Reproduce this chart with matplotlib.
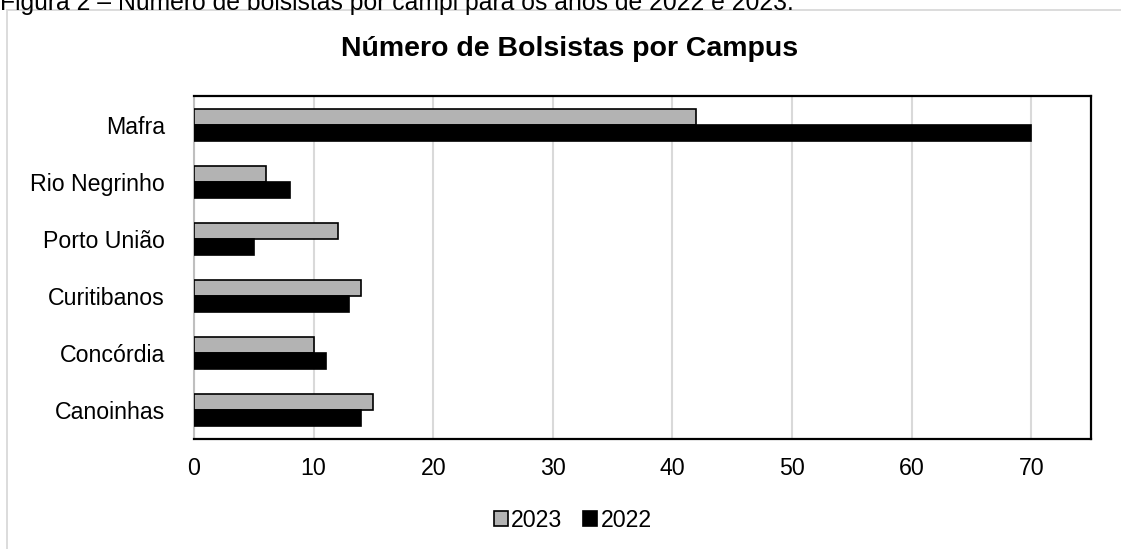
import matplotlib.pyplot as plt
import matplotlib.patches as mpatches
import numpy as np

plt.rcParams['font.family'] = ['Liberation Sans', 'DejaVu Sans']

campi = ['Canoinhas', 'Concórdia', 'Curitibanos', 'Porto União', 'Rio Negrinho', 'Mafra']
bolsistas_2023 = [15, 10, 14, 12, 6, 42]
bolsistas_2022 = [14, 11, 13, 5, 8, 70]
anos = ['2023', '2022']

fig = plt.figure(figsize=(11.21, 5.49), dpi=100)

# legenda da figura (cortada no topo) e moldura cinza
fig.text(0.0, 1.016, 'Figura 2 – Número de bolsistas por campi para os anos de 2022 e 2023.',
         fontsize=17.8, va='top', ha='left', color='black')
fig.add_artist(mpatches.Rectangle((7/1121, -0.1), 1.2, 1 - 10/549 + 0.1, transform=fig.transFigure,
                                  fill=False, edgecolor='#d9d9d9', linewidth=1.3))

ax = fig.add_axes([194/1121, 1 - 439/549, (1091 - 194)/1121, (439 - 96)/549])

y = np.arange(len(campi))
h = 0.28
ax.barh(y + h/2, bolsistas_2023, height=h, color='#b3b3b3', edgecolor='black', linewidth=1.2, label=anos[0], zorder=3)
ax.barh(y - h/2, bolsistas_2022, height=h, color='black', edgecolor='black', linewidth=1.2, label=anos[1], zorder=3)

ax.set_xlim(0, 75)
ax.set_ylim(-0.5, len(campi) - 0.5)
ax.set_xticks(np.arange(0, 71, 10))
ax.set_yticks(y)
ax.set_yticklabels(campi)
ax.tick_params(axis='both', length=0, labelsize=16.7)
ax.tick_params(axis='x', pad=13)
ax.tick_params(axis='y', pad=21)
ax.grid(axis='x', color='#d9d9d9', linewidth=1.5, zorder=0)

for s in ['top', 'right', 'bottom']:
    ax.spines[s].set_color('black')
    ax.spines[s].set_linewidth(1.6)
ax.spines['left'].set_color('#bfbfbf')
ax.spines['left'].set_linewidth(1.5)

fig.text(0.508, 0.91, 'Número de Bolsistas por Campus', fontsize=20.5, fontweight='bold',
         ha='center', va='center')

fig.legend(loc='center', bbox_to_anchor=(0.511, 0.052), ncol=2, frameon=False, fontsize=16.7,
           handlelength=0.6, handleheight=0.6, handletextpad=0.15, columnspacing=0.9)

fig.savefig('out.png', dpi=100)
